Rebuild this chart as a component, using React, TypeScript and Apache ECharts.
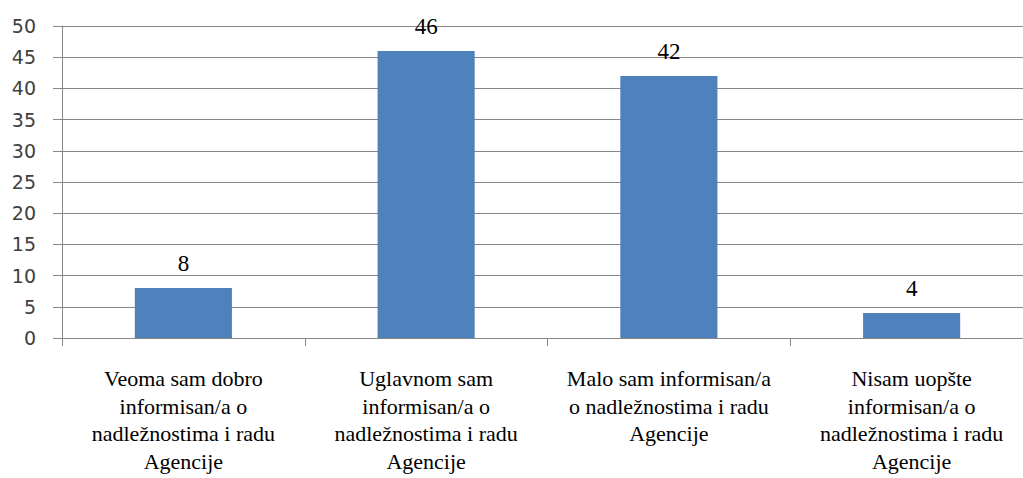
import React, { useEffect, useRef } from "react";
import * as echarts from "echarts";

const categories = [
  "Veoma sam dobro\ninformisan/a o\nnadležnostima i radu\nAgencije",
  "Uglavnom sam\ninformisan/a o\nnadležnostima i radu\nAgencije",
  "Malo sam informisan/a\no nadležnostima i radu\nAgencije",
  "Nisam uopšte\ninformisan/a o\nnadležnostima i radu\nAgencije",
];
const values = [8, 46, 42, 4];
const yMin = 0;
const yMax = 50;
const yStep = 5;

const SERIF = "Liberation Serif";
const SANS = "DejaVu Sans";

export default function App() {
  const ref = useRef<HTMLDivElement>(null);
  useEffect(() => {
    if (!ref.current) return;
    const chart = echarts.init(ref.current, null, { renderer: "svg" });
    chart.setOption({
      animation: false,
      textStyle: { fontFamily: SERIF },
      grid: { left: 62, right: 0, top: 26, bottom: 140 },
      xAxis: {
        type: "category",
        data: categories,
        axisLine: { lineStyle: { color: "#868686", width: 1 } },
        axisTick: { show: true, length: 8, lineStyle: { color: "#868686" } },
        axisLabel: {
          interval: 0,
          margin: 27,
          color: "#000",
          fontFamily: SERIF,
          fontSize: 22,
          lineHeight: 27.5,
        },
        splitLine: { show: false },
      },
      yAxis: {
        type: "value",
        min: yMin,
        max: yMax,
        interval: yStep,
        axisLine: { show: true, lineStyle: { color: "#868686", width: 1 } },
        axisTick: { show: true, length: 9, lineStyle: { color: "#868686" } },
        axisLabel: {
          margin: 26,
          color: "#404040",
          fontFamily: SANS,
          fontSize: 19,
        },
        splitLine: { show: true, lineStyle: { color: "#868686", width: 1 } },
      },
      series: [
        {
          type: "bar",
          data: values,
          barWidth: "40%",
          itemStyle: { color: "#4F81BD" },
          label: {
            show: true,
            position: "top",
            distance: 13,
            color: "#000",
            fontFamily: SERIF,
            fontSize: 23,
          },
        },
      ],
    });
    return () => chart.dispose();
  }, []);
  return (
    <div style={{ position: "absolute", left: 0, top: 0, width: 1023, height: 478, overflow: "hidden" }}>
      <div ref={ref} style={{ width: 1033, height: 478 }} />
    </div>
  );
}
